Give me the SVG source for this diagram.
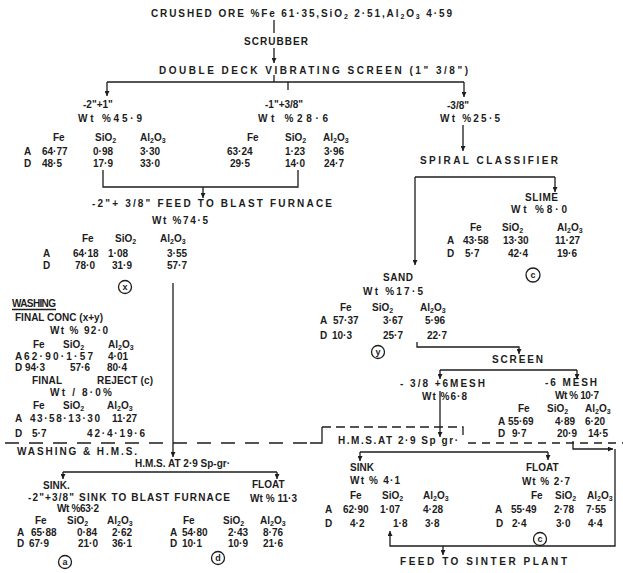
<svg xmlns="http://www.w3.org/2000/svg" width="623" height="573" viewBox="0 0 623 573">
<defs>
<marker id="ah" viewBox="0 0 6 6" refX="6" refY="3" markerWidth="5" markerHeight="5" orient="auto" markerUnits="userSpaceOnUse"><path d="M0,0 L6,3 L0,6 z" fill="#1c1c1c"/></marker>
<style>
text{font-family:"Liberation Sans","DejaVu Sans",sans-serif;font-weight:bold;font-size:10px;fill:#1c1c1c}
.s{font-size:7px;baseline-shift:-2px}
.ln{fill:none;stroke:#1c1c1c;stroke-width:1.3}
.ar{marker-end:url(#ah)}
.dl{fill:none;stroke:#1c1c1c;stroke-width:1.3;stroke-dasharray:14 10}
.dt{fill:none;stroke:#1c1c1c;stroke-width:1.3;stroke-dasharray:9 5}
.dr{fill:none;stroke:#1c1c1c;stroke-width:1.3;stroke-dasharray:8 6}
.c{fill:none;stroke:#1c1c1c;stroke-width:1.3}
text.cl{font-size:9px;text-anchor:middle}
</style>
</defs>
<rect width="623" height="573" fill="#fff"/>

<g id="connectors">
<path class="ln" d="M274,20 V33"/>
<path class="ln ar" d="M274,48 V63"/>
<path class="ln" d="M274,75 V82"/>
<path class="ln" d="M107,82 H464"/>
<path class="ln ar" d="M107,82 V96"/>
<path class="ln" d="M288,82 V90"/>
<path class="ln ar" d="M464,82 V97"/>
<path class="ln" d="M103,170 V187 H298 V170"/>
<path class="ln ar" d="M203,187 V198"/>
<path class="ln ar" d="M173,283 V457"/>
<path class="ln ar" d="M463,125 V151"/>
<path class="ln" d="M415,177 H555"/>
<path class="ln ar" d="M555,177 V192"/>
<path class="ln ar" d="M415,177 V265"/>
<path class="ln ar" d="M417,342 V347 H519 V354"/>
<path class="ln" d="M440,370 H577"/>
<path class="ln ar" d="M440,370 V379"/>
<path class="ln ar" d="M577,370 V379"/>
<path class="ln ar" d="M440,391 V437"/>
<path class="dl" d="M5,443 H316"/>
<path class="ln" d="M310,443 H322 V427"/>
<path class="dt" d="M322,427 H463 V437"/>
<path class="dr" d="M468,443 H623"/>
<path class="ln" d="M63,472 H277"/>
<path class="ln ar" d="M63,472 V479"/>
<path class="ln ar" d="M277,472 V479"/>
<path class="ln" d="M360,452 H548"/>
<path class="ln ar" d="M360,452 V461"/>
<path class="ln ar" d="M548,452 V460"/>
<path class="ln ar" d="M573,441 V449 H613"/>
<path class="ln ar" d="M615,449 V546 H390 V531"/>
<path class="ln ar" d="M443,546 V555"/>
</g>

<g id="crushed-ore"><text x="151" y="17" textLength="301" lengthAdjust="spacing">CRUSHED ORE %Fe 61·35,SiO<tspan class="s">2</tspan> 2·51,Al<tspan class="s">2</tspan>O<tspan class="s">3</tspan> 4·59</text></g>
<g id="scrubber"><text x="244" y="45" textLength="64">SCRUBBER</text></g>
<g id="screen1"><text x="159" y="74" textLength="309">DOUBLE DECK VIBRATING SCREEN (1" 3/8")</text></g>

<g id="plus1">
<text x="83" y="108">-2"+1"</text>
<text x="78" y="122" textLength="64">Wt %45·9</text>
<text x="53" y="141">Fe</text>
<text x="95" y="141">SiO<tspan class="s">2</tspan></text>
<text x="140" y="141">Al<tspan class="s">2</tspan>O<tspan class="s">3</tspan></text>
<text x="24" y="155">A</text><text x="42" y="155">64·77</text><text x="93" y="155">0·98</text><text x="140" y="155">3·30</text>
<text x="24" y="167">D</text><text x="42" y="167">48·5</text><text x="93" y="167">17·9</text><text x="140" y="167">33·0</text>
</g>

<g id="minus1">
<text x="265" y="108">-1"+3/8"</text>
<text x="258" y="122" textLength="70">Wt %28·6</text>
<text x="247" y="141">Fe</text>
<text x="285" y="141">SiO<tspan class="s">2</tspan></text>
<text x="323" y="141">Al<tspan class="s">2</tspan>O<tspan class="s">3</tspan></text>
<text x="227" y="155">63·24</text><text x="285" y="155">1·23</text><text x="324" y="155">3·96</text>
<text x="230" y="167">29·5</text><text x="285" y="167">14·0</text><text x="324" y="167">24·7</text>
</g>

<g id="minus38">
<text x="447" y="109">-3/8"</text>
<text x="440" y="122" textLength="60">Wt %25·5</text>
</g>

<g id="feed-bf">
<text x="92" y="207" textLength="240">-2"+ 3/8" FEED TO BLAST FURNACE</text>
<text x="152" y="224" textLength="56">Wt %74·5</text>
<text x="82" y="242">Fe</text>
<text x="115" y="242">SiO<tspan class="s">2</tspan></text>
<text x="160" y="242">Al<tspan class="s">2</tspan>O<tspan class="s">3</tspan></text>
<text x="43" y="257">A</text><text x="73" y="257">64·18</text><text x="108" y="257">1·08</text><text x="167" y="257">3·55</text>
<text x="43" y="269">D</text><text x="75" y="269">78·0</text><text x="112" y="269">31·9</text><text x="167" y="269">57·7</text>
<circle class="c" cx="125" cy="287" r="6.5"/><text class="cl" x="125" y="290">x</text>
</g>

<g id="washing">
<text x="12" y="307" textLength="44">WASHING</text>
<line class="ln" x1="12" y1="309.5" x2="56" y2="309.5"/>
<text x="15" y="321" textLength="88">FINAL CONC (x+y)</text>
<text x="50" y="334" textLength="58">Wt % 92·0</text>
<text x="33" y="348">Fe</text>
<text x="63" y="348">SiO<tspan class="s">2</tspan></text>
<text x="108" y="348">Al<tspan class="s">2</tspan>O<tspan class="s">3</tspan></text>
<text x="15" y="360">A</text><text x="24" y="360" textLength="69">62·90·1·57</text><text x="108" y="360">4·01</text>
<text x="15" y="371">D</text><text x="25" y="371">94·3</text><text x="70" y="371">57·6</text><text x="107" y="371">80·4</text>
<text x="32" y="384" textLength="30">FINAL</text><text x="97" y="384" textLength="56">REJECT (c)</text>
<text x="50" y="396" textLength="62">Wt / 8·0%</text>
<text x="33" y="409">Fe</text>
<text x="63" y="409">SiO<tspan class="s">2</tspan></text>
<text x="107" y="409">Al<tspan class="s">2</tspan>O<tspan class="s">3</tspan></text>
<text x="15" y="422">A</text><text x="30" y="422" textLength="70">43·58·13·30</text><text x="112" y="422">11·27</text>
<text x="15" y="437">D</text><text x="32" y="437">5·7</text><text x="87" y="437" textLength="58">42·4·19·6</text>
</g>
<g id="washing-hms"><text x="17" y="455" textLength="120">WASHING &amp; H.M.S.</text></g>

<g id="hms1"><text x="135" y="467" textLength="95">H.M.S. AT 2·9 Sp-gr·</text></g>

<g id="sink1">
<text x="43" y="489">SINK.</text>
<text x="28" y="501" textLength="202">-2"+3/8" SINK TO BLAST FURNACE</text>
<text x="57" y="512" textLength="42">Wt %63·2</text>
<text x="35" y="524">Fe</text>
<text x="67" y="524">SiO<tspan class="s">2</tspan></text>
<text x="107" y="524">Al<tspan class="s">2</tspan>O<tspan class="s">3</tspan></text>
<text x="17" y="536">A</text><text x="31" y="536">65·88</text><text x="77" y="536">0·84</text><text x="112" y="536">2·62</text>
<text x="17" y="547">D</text><text x="29" y="547">67·9</text><text x="78" y="547">21·0</text><text x="112" y="547">36·1</text>
<circle class="c" cx="65" cy="562" r="6.5"/><text class="cl" x="65" y="565">a</text>
</g>

<g id="float1">
<text x="252" y="488">FLOAT</text>
<text x="250" y="502" textLength="47">Wt % 11·3</text>
<text x="183" y="524">Fe</text>
<text x="223" y="524">SiO<tspan class="s">2</tspan></text>
<text x="260" y="524">Al<tspan class="s">2</tspan>O<tspan class="s">3</tspan></text>
<text x="170" y="536">A</text><text x="182" y="536">54·80</text><text x="228" y="536">2·43</text><text x="263" y="536">8·76</text>
<text x="170" y="547">D</text><text x="182" y="547">10·1</text><text x="228" y="547">10·9</text><text x="263" y="547">21·6</text>
<circle class="c" cx="218" cy="558" r="6.5"/><text class="cl" x="218" y="561">d</text>
</g>

<g id="spiral"><text x="420" y="164" textLength="138">SPIRAL CLASSIFIER</text></g>

<g id="slime">
<text x="525" y="201" textLength="33">SLIME</text>
<text x="511" y="213" textLength="56">Wt %8·0</text>
<text x="470" y="231">Fe</text>
<text x="502" y="231">SiO<tspan class="s">2</tspan></text>
<text x="557" y="231">Al<tspan class="s">2</tspan>O<tspan class="s">3</tspan></text>
<text x="447" y="244">A</text><text x="463" y="244">43·58</text><text x="503" y="244">13·30</text><text x="555" y="244">11·27</text>
<text x="447" y="257">D</text><text x="465" y="257">5·7</text><text x="508" y="257">42·4</text><text x="557" y="257">19·6</text>
<circle class="c" cx="533" cy="275" r="7"/><text class="cl" x="533" y="278">c</text>
</g>

<g id="sand">
<text x="383" y="281" textLength="30">SAND</text>
<text x="363" y="295" textLength="60">Wt %17·5</text>
<text x="340" y="311">Fe</text>
<text x="372" y="311">SiO<tspan class="s">2</tspan></text>
<text x="420" y="311">Al<tspan class="s">2</tspan>O<tspan class="s">3</tspan></text>
<text x="320" y="324">A</text><text x="333" y="324">57·37</text><text x="383" y="324">3·67</text><text x="425" y="324">5·96</text>
<text x="320" y="339">D</text><text x="332" y="339">10·3</text><text x="383" y="339">25·7</text><text x="427" y="339">22·7</text>
<circle class="c" cx="378" cy="352" r="6.5"/><text class="cl" x="378" y="355">y</text>
</g>

<g id="screen2"><text x="492" y="363" textLength="51">SCREEN</text></g>

<g id="mesh-plus">
<text x="400" y="387" textLength="85">- 3/8 +6MESH</text>
<text x="422" y="400" textLength="45">Wt %6·8</text>
</g>

<g id="mesh-minus">
<text x="545" y="386" textLength="52">-6 MESH</text>
<text x="555" y="399" textLength="44">Wt % 10·7</text>
<text x="518" y="412">Fe</text>
<text x="547" y="412">SiO<tspan class="s">2</tspan></text>
<text x="585" y="412">Al<tspan class="s">2</tspan>O<tspan class="s">3</tspan></text>
<text x="498" y="425">A</text><text x="508" y="425">55·69</text><text x="555" y="425">4·89</text><text x="585" y="425">6·20</text>
<text x="498" y="437">D</text><text x="512" y="437">9·7</text><text x="557" y="437">20·9</text><text x="588" y="437">14·5</text>
</g>

<g id="hms2"><text x="338" y="444" textLength="120">H.M.S.AT 2·9 Sp gr·</text></g>

<g id="sink2">
<text x="350" y="471">SINK</text>
<text x="350" y="484" textLength="50">Wt % 4·1</text>
<text x="350" y="499">Fe</text>
<text x="382" y="499">SiO<tspan class="s">2</tspan></text>
<text x="423" y="499">Al<tspan class="s">2</tspan>O<tspan class="s">3</tspan></text>
<text x="325" y="513">A</text><text x="343" y="513">62·90</text><text x="380" y="513">1·07</text><text x="423" y="513">4·28</text>
<text x="325" y="527">D</text><text x="350" y="527">4·2</text><text x="393" y="527">1·8</text><text x="425" y="527">3·8</text>
</g>

<g id="float2">
<text x="526" y="471">FLOAT</text>
<text x="522" y="485" textLength="48">Wt % 2·7</text>
<text x="531" y="499">Fe</text>
<text x="555" y="499">SiO<tspan class="s">2</tspan></text>
<text x="587" y="499">Al<tspan class="s">2</tspan>O<tspan class="s">3</tspan></text>
<text x="495" y="513">A</text><text x="511" y="513">55·49</text><text x="554" y="513">2·78</text><text x="586" y="513">7·55</text>
<text x="496" y="527">D</text><text x="512" y="527">2·4</text><text x="556" y="527">3·0</text><text x="588" y="527">4·4</text>
<circle class="c" cx="540" cy="539" r="6.5"/><text class="cl" x="540" y="542">c</text>
</g>

<g id="sinter"><text x="400" y="565" textLength="167">FEED TO SINTER PLANT</text></g>
</svg>
